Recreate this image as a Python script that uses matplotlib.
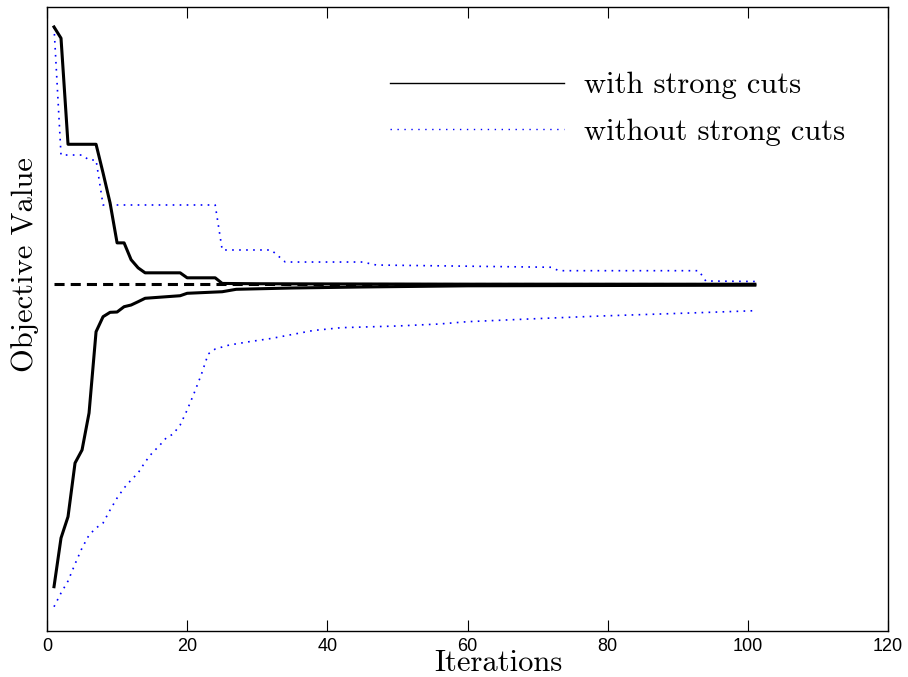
import matplotlib
matplotlib.use("Agg")
import matplotlib.pyplot as plt
from matplotlib.lines import Line2D

# (y in arbitrary objective units, axis has no y ticks)
withUpperX = [1, 2, 3, 7, 8, 9, 10, 11, 12, 13, 14, 19, 20, 24, 25, 30, 40, 60, 101]
withUpperY = [96.8, 95.0, 78.0, 78.0, 73.4, 68.6, 62.2, 62.2, 59.5, 58.2, 57.4, 57.4,
              56.6, 56.6, 55.70, 55.65, 55.62, 55.58, 55.57]

withLowerX = [1, 2, 3, 4, 5, 6, 7, 8, 9, 10, 11, 12, 13, 14, 19, 20, 25, 27, 35, 45, 60, 101]
withLowerY = [7.10, 14.90, 18.32, 26.92, 29.01, 34.94, 47.96, 50.37, 51.07, 51.12, 51.97,
              52.24, 52.77, 53.32, 53.73, 54.12, 54.37, 54.76, 54.97, 55.13, 55.32, 55.42]

withoutUpperX = [1, 2, 5, 6, 7, 8, 24, 25, 32, 34, 45, 47, 72, 73, 93, 94, 101]
withoutUpperY = [96.8, 76.28, 76.28, 75.48, 75.48, 68.27, 68.27, 61.06, 61.06, 59.13,
                 59.13, 58.65, 58.29, 57.74, 57.74, 56.09, 56.01]

withoutLowerX = [1, 2, 3, 4, 5, 6, 7, 8, 9, 10, 11, 12, 13, 14, 15, 16, 17, 18, 19, 20,
                 21, 22, 23, 24, 26, 29, 32, 35, 38, 42, 50, 56, 60, 71, 79, 93, 101]
withoutLowerY = [3.89, 6.09, 8.01, 10.74, 13.30, 15.38, 16.51, 17.31, 19.39, 21.31, 22.92,
                 24.20, 25.32, 27.08, 28.53, 29.65, 30.93, 31.57, 33.01, 35.42, 38.14, 41.03,
                 44.39, 45.19, 45.83, 46.39, 46.88, 47.52, 48.16, 48.61, 48.88, 49.20, 49.57,
                 50.11, 50.48, 51.01, 51.33]

optimalX = [1, 101]
optimalY = [55.56, 55.56]

xticks = [0, 20, 40, 60, 80, 100, 120]

fig = plt.figure(figsize=(9.08, 6.77), dpi=100)
ax = fig.add_axes([47/908, 46/677, 841/908, 624/677])

dotted = (0, (1.0, 3.2))
ax.plot(withoutUpperX, withoutUpperY, color='#0000ff', lw=1.2, ls=dotted, zorder=2)
ax.plot(withoutLowerX, withoutLowerY, color='#0000ff', lw=1.2, ls=dotted, zorder=2)
ax.plot(optimalX, optimalY, color='black', lw=2.2, dashes=(3.3, 2.0), zorder=3)
ax.plot(withUpperX, withUpperY, color='black', lw=2.2, zorder=4)
ax.plot(withLowerX, withLowerY, color='black', lw=2.2, zorder=4)

ax.set_xlim(0, 120)
ax.set_ylim(0, 100)
ax.set_xticks(xticks)
ax.set_yticks([])
ax.tick_params(axis='x', direction='in', length=8, width=0.8, top=True, pad=5,
               labelsize=13)
for lab in ax.get_xticklabels():
    lab.set_fontfamily(['Liberation Sans Narrow', 'Liberation Sans'])
for sp in ax.spines.values():
    sp.set_linewidth(1.0)

ax.set_xlabel('Iterations', family='cmr10', fontsize=22)
ax.xaxis.set_label_coords((498 - 47) / 841, (631 - 650) / 624)
ax.set_ylabel('Objective Value', family='cmr10', fontsize=22)
ax.yaxis.set_label_coords((39 - 47) / 841, (631 - 265) / 624)

handles = [Line2D([], [], color='black', lw=1.0),
           Line2D([], [], color='#0000ff', lw=1.0, ls=(0, (1, 4)))]
ax.legend(handles, ['with strong cuts', 'without strong cuts'],
          loc='upper left', bbox_to_anchor=(390/908, 1 - 72/677),
          bbox_transform=fig.transFigure, frameon=False, borderpad=0,
          borderaxespad=0, handlelength=5.7, handletextpad=0.65, labelspacing=0.62,
          prop={'family': 'cmr10', 'size': 22})

fig.savefig('out.png', dpi=100)
